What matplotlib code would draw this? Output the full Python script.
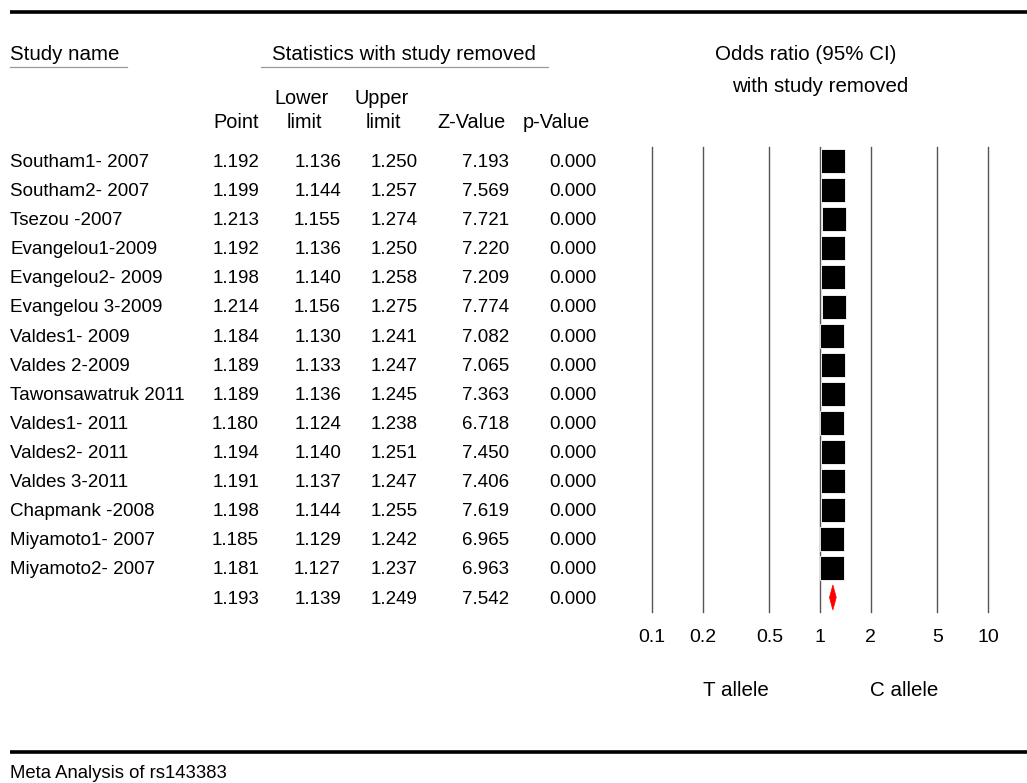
import matplotlib
matplotlib.use("Agg")
import matplotlib.pyplot as plt
from matplotlib.patches import Rectangle, Polygon

plt.rcParams['font.family'] = ['Liberation Sans', 'DejaVu Sans']

studies = ["Southam1- 2007", "Southam2- 2007", "Tsezou -2007", "Evangelou1-2009",
           "Evangelou2- 2009", "Evangelou 3-2009", "Valdes1- 2009", "Valdes 2-2009",
           "Tawonsawatruk 2011", "Valdes1- 2011", "Valdes2- 2011", "Valdes 3-2011",
           "Chapmank -2008", "Miyamoto1- 2007", "Miyamoto2- 2007"]
point = [1.192, 1.199, 1.213, 1.192, 1.198, 1.214, 1.184, 1.189, 1.189, 1.180,
         1.194, 1.191, 1.198, 1.185, 1.181]
lower = [1.136, 1.144, 1.155, 1.136, 1.140, 1.156, 1.130, 1.133, 1.136, 1.124,
         1.140, 1.137, 1.144, 1.129, 1.127]
upper = [1.250, 1.257, 1.274, 1.250, 1.258, 1.275, 1.241, 1.247, 1.245, 1.238,
         1.251, 1.247, 1.255, 1.242, 1.237]
zval = [7.193, 7.569, 7.721, 7.220, 7.209, 7.774, 7.082, 7.065, 7.363, 6.718,
        7.450, 7.406, 7.619, 6.965, 6.963]
pval = [0.000] * 15

# pooled estimate
sum_point, sum_lower, sum_upper, sum_z, sum_p = 1.193, 1.139, 1.249, 7.542, 0.000

ticks = [0.1, 0.2, 0.5, 1, 2, 5, 10]
tick_labels = ["0.1", "0.2", "0.5", "1", "2", "5", "10"]

W, H = 1027, 783
fig = plt.figure(figsize=(W / 100, H / 100), dpi=100)

# full-figure axes in pixel coordinates for the text table
tab = fig.add_axes([0, 0, 1, 1])
tab.set_xlim(0, W)
tab.set_ylim(H, 0)
tab.axis('off')

fs = 13.5      # table body
fs_head = 14.8  # group headings
fs_col = 14.3   # column headings
row0, dy = 162.5, 29.1

# rules
tab.plot([10, W], [12, 12], color='black', lw=2.6, solid_capstyle='butt')
tab.plot([10, W], [752, 752], color='black', lw=2.6, solid_capstyle='butt')

# headers
tab.text(10, 55, "Study name", fontsize=fs_head, va='center', ha='left')
tab.plot([10, 127], [67, 67], color='#999999', lw=0.9)
tab.text(404, 55, "Statistics with study removed", fontsize=fs_head, va='center', ha='center')
tab.plot([261, 548], [67, 67], color='#999999', lw=0.9)
tab.text(806, 55, "Odds ratio (95% CI)", fontsize=fs_head, va='center', ha='center')
tab.text(820, 86, "with study removed", fontsize=fs_head, va='center', ha='center')

tab.text(236, 123, "Point", fontsize=fs_col, va='center', ha='center')
tab.text(302, 98, "Lower", fontsize=fs_col, va='center', ha='center')
tab.text(304, 123, "limit", fontsize=fs_col, va='center', ha='center')
tab.text(382, 98, "Upper", fontsize=fs_col, va='center', ha='center')
tab.text(383, 123, "limit", fontsize=fs_col, va='center', ha='center')
tab.text(471, 123, "Z-Value", fontsize=fs_col, va='center', ha='center')
tab.text(556, 123, "p-Value", fontsize=fs_col, va='center', ha='center')

col_right = [259, 341, 418, 509, 597]

def row_text(y, name, vals):
    if name:
        tab.text(10, y, name, fontsize=fs, va='center', ha='left')
    for xr, v in zip(col_right, vals):
        tab.text(xr, y, "%.3f" % v, fontsize=fs, va='center', ha='right')

for i, name in enumerate(studies):
    row_text(row0 + dy * i, name, [point[i], lower[i], upper[i], zval[i], pval[i]])
row_text(row0 + dy * len(studies), "", [sum_point, sum_lower, sum_upper, sum_z, sum_p])

tab.text(736, 690, "T allele", fontsize=fs_head, va='center', ha='center')
tab.text(904, 690, "C allele", fontsize=fs_head, va='center', ha='center')
tab.text(10, 774, "Meta Analysis of rs143383", fontsize=13.3, va='center', ha='left')

# forest plot axes
n = len(studies) + 1
x0, x1 = 652, 988
top, bot = 146.5, 612
fa = fig.add_axes([x0 / W, 1 - bot / H, (x1 - x0) / W, (bot - top) / H])
fa.set_xscale('log')
fa.set_xlim(0.1, 10)
fa.set_ylim(n - 0.5, -0.5)
fa.patch.set_alpha(0)
for s in fa.spines.values():
    s.set_visible(False)
fa.set_yticks([])
fa.set_xticks(ticks)
fa.set_xticklabels(tick_labels, fontsize=14)
fa.minorticks_off()
fa.tick_params(axis='x', length=0, pad=12)
for t in ticks:
    fa.axvline(t, color='#555555', lw=1.0, zorder=1, clip_on=False)

half = 10 ** (12 / 168.0)   # box half-width in log units
bh = 24 / dy                 # box height in rows
for i in range(len(studies)):
    fa.plot([lower[i], upper[i]], [i, i], color='black', lw=1, zorder=2)
    fa.add_patch(Rectangle((point[i] / half, i - bh / 2), point[i] * half - point[i] / half, bh,
                           facecolor='black', edgecolor='white', lw=0.6, zorder=3))

k = len(studies)
fa.add_patch(Polygon([(sum_lower, k), (sum_point, k - 0.43), (sum_upper, k), (sum_point, k + 0.43)],
                     closed=True, facecolor='red', edgecolor='red', lw=0.5, zorder=3))

fig.savefig("out.png", dpi=100)
